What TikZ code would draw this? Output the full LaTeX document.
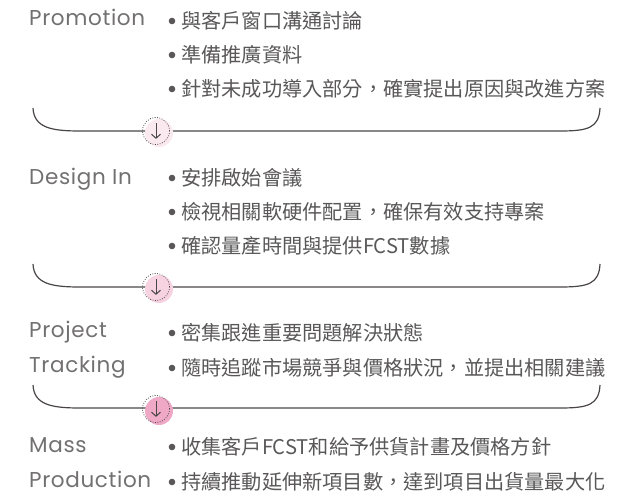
\documentclass[tikz,border=0pt]{standalone}
\usepackage{fontspec}
\usetikzlibrary{arrows.meta}
\newfontfamily\cjkfont{Noto Sans CJK TC}
\newfontfamily\stagefont{Poppins}[LetterSpace=3]
\definecolor{txtgray}{HTML}{595757}
\definecolor{labgray}{HTML}{727070}
\definecolor{linegray}{HTML}{4A4646}
\definecolor{pinkA}{HTML}{FBE9F0}
\definecolor{pinkB}{HTML}{F7D2E0}
\definecolor{pinkC}{HTML}{EFA8C6}
\tikzset{
  stage/.style={anchor=base west, inner sep=0pt, text=labgray, font=\stagefont\fontsize{21.5}{21.5}\selectfont},
  item/.style={anchor=west, inner sep=0pt, text=txtgray, font=\cjkfont\fontsize{20.2}{20.2}\selectfont},
  brace/.style={linegray, line width=1.2pt},
  ring/.style={circle, draw=linegray, line width=0.8pt, dash pattern=on 0.8pt off 1.6pt, minimum size=27pt, inner sep=0pt},
  blob/.style={circle, minimum size=28pt, inner sep=0pt},
  downarr/.style={linegray, line width=1pt, -{Straight Barb[length=4pt,width=9pt]}},
}
\begin{document}
\begin{tikzpicture}[x=1pt, y=-1pt]
    \useasboundingbox (0,0) rectangle (642,495);

    % Promotion
    \node[stage] (promo) at (29,26) {Promotion};
    \node[item] (promo1) at (181,21) {與客戶窗口溝通討論};
    \node[item] (promo2) at (181,55) {準備推廣資料};
    \node[item] (promo3) at (181,89) {針對未成功導入部分，確實提出原因與改進方案};
    \fill[txtgray] (172,21) circle (3.3);
    \fill[txtgray] (172,55) circle (3.3);
    \fill[txtgray] (172,89) circle (3.3);
    \coordinate (b1l) at (33,108);
    \coordinate (b1r) at (600,108);
    \draw[brace] (b1l) .. controls (34,128) and (52,131) .. (80,131) -- (560,131) .. controls (588,131) and (599,128) .. (b1r);
    \node[blob, fill=pinkA] (s1) at (159,133) {};
    \node[ring] (r1) at (156,131) {};
    \draw[downarr] ([yshift=-6pt]r1.north) -- ([yshift=6pt]r1.south);

    % Design In
    \node[stage] (design) at (29,184) {Design In};
    \node[item] (design1) at (181,178) {安排啟始會議};
    \node[item] (design2) at (181,212) {檢視相關軟硬件配置，確保有效支持專案};
    \node[item] (design3) at (181,246) {確認量產時間與提供FCST數據};
    \fill[txtgray] (172,178) circle (3.3);
    \fill[txtgray] (172,212) circle (3.3);
    \fill[txtgray] (172,246) circle (3.3);
    \coordinate (b2l) at (33,264);
    \coordinate (b2r) at (600,264);
    \draw[brace] (b2l) .. controls (34,284) and (52,287) .. (80,287) -- (560,287) .. controls (588,287) and (599,284) .. (b2r);
    \node[blob, fill=pinkB] (s2) at (159,289) {};
    \node[ring] (r2) at (156,287) {};
    \draw[downarr] ([yshift=-6pt]r2.north) -- ([yshift=6pt]r2.south);

    % Project Tracking
    \node[stage] (project) at (29,337) {Project};
    \node[stage] (tracking) at (29,372) {Tracking};
    \node[item] (track1) at (181,333) {密集跟進重要問題解決狀態};
    \node[item] (track2) at (181,368) {隨時追蹤市場競爭與價格狀況，並提出相關建議};
    \fill[txtgray] (172,333) circle (3.3);
    \fill[txtgray] (172,368) circle (3.3);
    \coordinate (b3l) at (33,385);
    \coordinate (b3r) at (600,385);
    \draw[brace] (b3l) .. controls (34,405) and (52,408) .. (80,408) -- (560,408) .. controls (588,408) and (599,405) .. (b3r);
    \node[blob, fill=pinkC] (s3) at (159,411) {};
    \node[ring] (r3) at (156,409) {};
    \draw[downarr] ([yshift=-6pt]r3.north) -- ([yshift=6pt]r3.south);

    % Mass Production
    \node[stage] (mass) at (29,452) {Mass};
    \node[stage] (production) at (29,487) {Production};
    \node[item] (mass1) at (181,447) {收集客戶FCST和給予供貨計畫及價格方針};
    \node[item] (mass2) at (181,482) {持續推動延伸新項目數，達到項目出貨量最大化};
    \fill[txtgray] (172,447) circle (3.3);
    \fill[txtgray] (172,482) circle (3.3);
  \end{tikzpicture}
\end{document}
